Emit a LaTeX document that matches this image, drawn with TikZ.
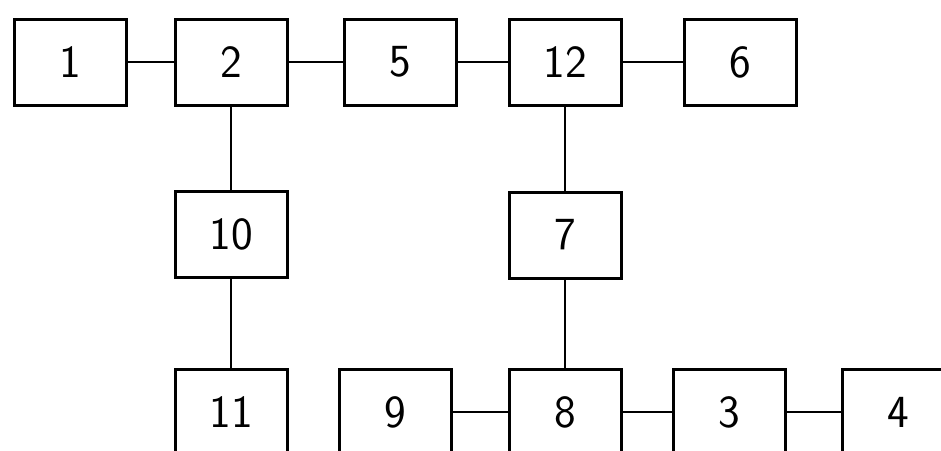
\documentclass[tikz,border=0pt]{standalone}
\usepackage{tikz}
\usetikzlibrary{positioning}
\tikzset{
	% block diagram styles
	blk/.style ={rectangle, draw=black, line width=1.5pt, minimum width=56pt, minimum height=43pt, align=center, font=\sffamily\fontsize{23}{26}\selectfont},
	link/.style={line width=1.3pt},
}

\begin{document}
\begin{tikzpicture}[x=0.5pt, y=-0.5pt]
	\useasboundingbox (0,0) rectangle (941,450);
	\clip (0,0) rectangle (941,450);
	% top row
	\node[blk] (b1)  at (70,62)  {1};
	\node[blk] (b2)  at (231,62) {2};
	\node[blk] (b5)  at (400,62) {5};
	\node[blk] (b12) at (565,62) {12};
	\node[blk] (b6)  at (740,62) {6};
	% middle row
	\node[blk] (b10) at (231,234) {10};
	\node[blk] (b7)  at (565,235) {7};
	% bottom row
	\node[blk] (b11) at (231,412) {11};
	\node[blk] (b9)  at (395,412) {9};
	\node[blk] (b8)  at (565,412) {8};
	\node[blk] (b3)  at (729,412) {3};
	\node[blk] (b4)  at (898,412) {4};
	\draw[link] (b1) -- (b2);
	\draw[link] (b2) -- (b5);
	\draw[link] (b5) -- (b12);
	\draw[link] (b12) -- (b6);
	\draw[link] (b2) -- (b10);
	\draw[link] (b10) -- (b11);
	\draw[link] (b12) -- (b7);
	\draw[link] (b7) -- (b8);
	\draw[link] (b9) -- (b8);
	\draw[link] (b8) -- (b3);
	\draw[link] (b3) -- (b4);
\end{tikzpicture}
\end{document}
